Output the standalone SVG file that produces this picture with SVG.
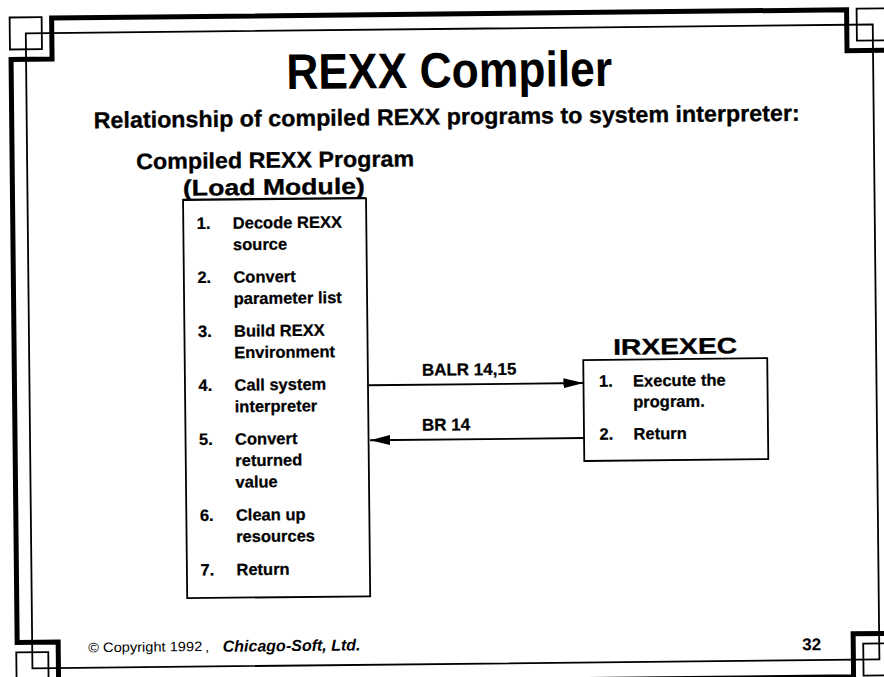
<svg xmlns="http://www.w3.org/2000/svg" width="884" height="677" viewBox="0 0 884 677">
<defs>
<style>
text{font-family:"Liberation Sans",Arial,Helvetica,sans-serif;fill:#000;}
.title{font-size:50px;font-weight:bold;}
.sub{font-size:23px;font-weight:bold;stroke:#000;stroke-width:0.3;}
.head{font-size:22.5px;font-weight:bold;stroke:#000;stroke-width:0.3;}
.item{font-size:16.5px;font-weight:bold;stroke:#000;stroke-width:0.25;}
.lbl{font-size:17px;font-weight:bold;stroke:#000;stroke-width:0.25;}
.box{fill:#fff;stroke:#000;stroke-width:1.8;}
.thin{fill:none;stroke:#000;stroke-width:1.8;}
.thick{fill:none;stroke:#000;stroke-width:5;stroke-linejoin:miter;}
.conn{stroke:#000;stroke-width:1.8;fill:none;}
</style>
<marker id="ah" viewBox="0 0 20 10" refX="20" refY="5" markerWidth="20" markerHeight="10" markerUnits="userSpaceOnUse" orient="auto">
<path d="M0,0 L20,5 L0,10 z" fill="#000"/>
</marker>
</defs>
<rect width="884" height="677" fill="#fff"/>
<g transform="rotate(-0.6 442 338)">
<g id="frame">
<path class="thick" d="M55,14 L850,14 L850,55 L893,55 L893,638 L850,638 L850,681 L55,681 L55,638 L14,638 L14,55 L55,55 Z"/>
<rect class="thin" x="29" y="29" width="847" height="635"/>
<rect class="thin" x="13" y="13" width="32" height="32"/>
<rect class="thin" x="860" y="13" width="32" height="32"/>
<rect class="thin" x="860" y="648" width="32" height="32"/>
<rect class="thin" x="13" y="648" width="32" height="32"/>
</g>
<g id="title">
<text class="title" x="452" y="87.5" text-anchor="middle" textLength="326" lengthAdjust="spacingAndGlyphs">REXX Compiler</text>
<text class="sub" x="449" y="124.5" text-anchor="middle" textLength="706" lengthAdjust="spacingAndGlyphs">Relationship of compiled REXX programs to system interpreter:</text>
</g>
<g id="compiled-program">
<text class="head" x="277" y="166" text-anchor="middle" textLength="278" lengthAdjust="spacingAndGlyphs">Compiled REXX Program</text>
<text class="head" x="275.5" y="193" text-anchor="middle" textLength="182" lengthAdjust="spacingAndGlyphs">(Load Module)</text>
<line x1="184" y1="197" x2="367" y2="197" stroke="#000" stroke-width="1.8"/>
<rect class="box" x="184.5" y="197.5" width="183" height="398"/>
<g class="item">
<text x="198" y="226.5">1.</text><text x="234" y="226.5">Decode REXX</text><text x="234" y="248">source</text>
<text x="198" y="280.5">2.</text><text x="234" y="280.5">Convert</text><text x="234" y="302">parameter list</text>
<text x="198" y="334.5">3.</text><text x="234" y="334.5">Build REXX</text><text x="234" y="356">Environment</text>
<text x="198" y="388.5">4.</text><text x="234" y="388.5">Call system</text><text x="234" y="410">interpreter</text>
<text x="198" y="442.5">5.</text><text x="234" y="442.5">Convert</text><text x="234" y="464">returned</text><text x="234" y="485.5">value</text>
<text x="198" y="518.5">6.</text><text x="234" y="518.5">Clean up</text><text x="234" y="540">resources</text>
<text x="198" y="573">7.</text><text x="234" y="573">Return</text>
</g>
</g>
<g id="irxexec">
<text class="head" x="675" y="356.5" text-anchor="middle" textLength="124" lengthAdjust="spacingAndGlyphs">IRXEXEC</text>
<rect class="box" x="583" y="361.5" width="184" height="101"/>
<g class="item">
<text x="598.5" y="388.5">1.</text><text x="632.5" y="388.5">Execute the</text><text x="632.5" y="409.5">program.</text>
<text x="598.5" y="441.5">2.</text><text x="632.5" y="441.5">Return</text>
</g>
</g>
<g id="connectors">
<line class="conn" x1="368" y1="384.5" x2="583" y2="384.5" marker-end="url(#ah)"/>
<text class="lbl" x="421.5" y="375.5">BALR 14,15</text>
<line class="conn" x1="583" y1="439.5" x2="369" y2="439.5" marker-end="url(#ah)"/>
<text class="lbl" x="421" y="430.5">BR 14</text>
</g>
<g id="footer">
<text x="85" y="648.5" style="font-size:13.5px" textLength="114" lengthAdjust="spacingAndGlyphs">© Copyright 1992</text>
<text x="202" y="649" style="font-size:14px">,</text>
<text x="219.5" y="649.5" style="font-size:16px;font-weight:bold;font-style:italic">Chicago-Soft, Ltd.</text>
<text x="799" y="654" style="font-size:17px;font-weight:bold">32</text>
</g>
</g>
</svg>
